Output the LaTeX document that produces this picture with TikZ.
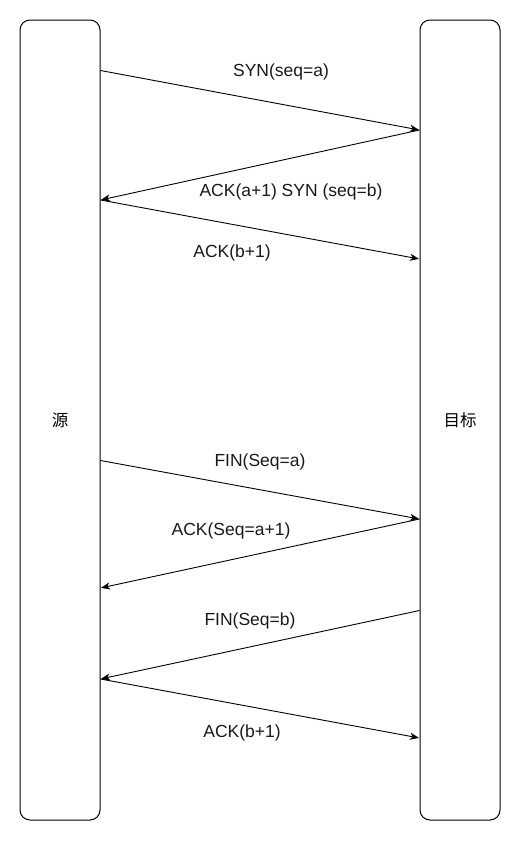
\documentclass[tikz,border=0pt]{standalone}
\usepackage{fontspec}
\setmainfont{Liberation Sans}
\newfontfamily\cjk{Noto Sans CJK SC}
\usetikzlibrary{arrows.meta}
\begin{document}
\begin{tikzpicture}[x=1pt,y=-1pt,
  lane/.style={draw=black,line width=1pt,rounded corners=10pt,minimum width=80pt,minimum height=800pt,inner sep=0pt,font=\cjk\fontsize{16.5}{19}\selectfont},
  msg/.style={draw=black,line width=0.9pt,-{Stealth[length=9pt,width=7pt,inset=2.5pt]},shorten >=0.5pt},
  lbl/.style={font=\fontsize{17.5}{20}\selectfont,text=black!90,inner sep=0pt}]
\useasboundingbox (0,0) rectangle (521,841);
\node[lane] (L) at (60,420) {源};
\node[lane] (R) at (460,420) {目标};
% end points on the lanes
\coordinate (l1) at (L.east |- 0,70.5);
\coordinate (r1) at (R.west |- 0,130);
\coordinate (l2) at (L.east |- 0,200);
\coordinate (r3) at (R.west |- 0,259);
\coordinate (l4) at (L.east |- 0,460.5);
\coordinate (r4) at (R.west |- 0,519);
\coordinate (l5) at (L.east |- 0,588);
\coordinate (r6) at (R.west |- 0,610.5);
\coordinate (l6) at (L.east |- 0,679);
\coordinate (r7) at (R.west |- 0,738);
\draw[msg] (l1) -- (r1);
\draw[msg] (r1) -- (l2);
\draw[msg] (l2) -- (r3);
\draw[msg] (l4) -- (r4);
\draw[msg] (r4) -- (l5);
\draw[msg] (r6) -- (l6);
\draw[msg] (l6) -- (r7);
% labels
\node[lbl] (t1) at (281,72) {SYN(seq=a)};
\node[lbl] (t2) at (291,192) {ACK(a+1) SYN (seq=b)};
\node[lbl] (t3) at (232,253) {ACK(b+1)};
\node[lbl] (t4) at (260,462) {FIN(Seq=a)};
\node[lbl] (t5) at (231,531) {ACK(Seq=a+1)};
\node[lbl] (t6) at (250,621) {FIN(Seq=b)};
\node[lbl] (t7) at (242,733) {ACK(b+1)};
\end{tikzpicture}
\end{document}
